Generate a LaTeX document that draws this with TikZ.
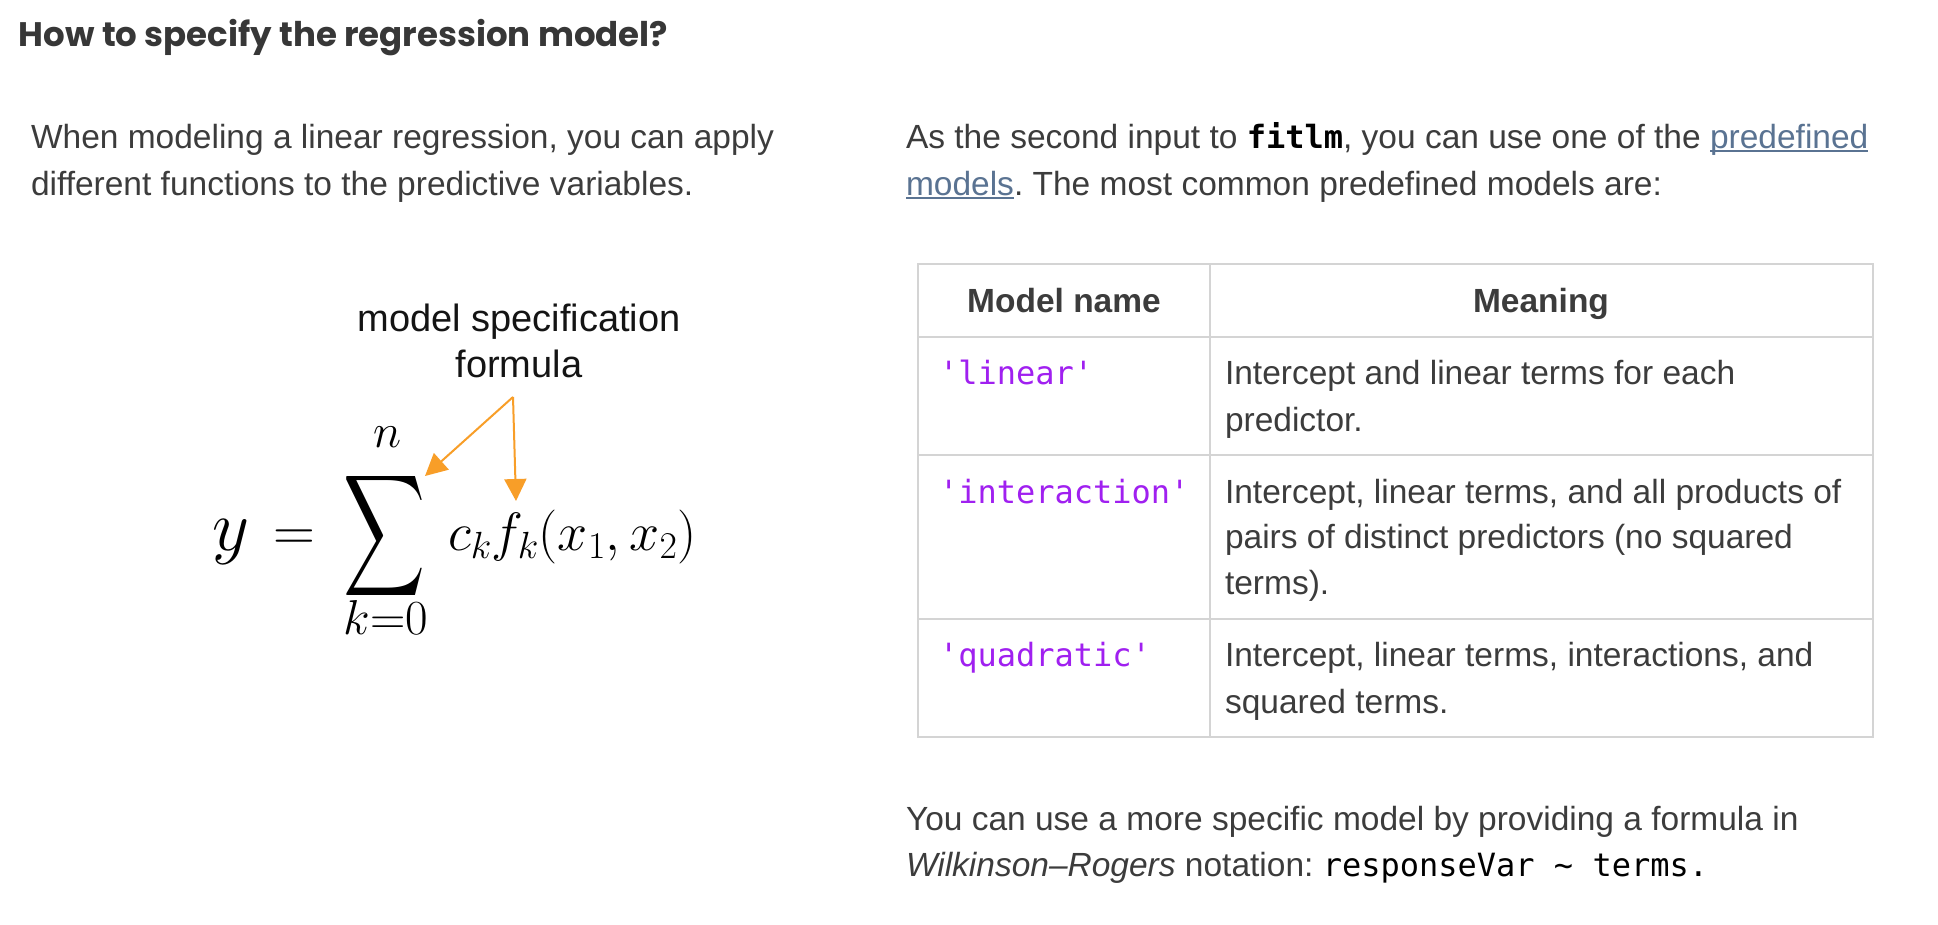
\RequirePackage{fix-cm}
\documentclass[tikz,border=0pt]{standalone}
\usepackage[no-math]{fontspec}
\usepackage{graphicx}
\usetikzlibrary{arrows.meta}
\setmainfont{Liberation Sans}
\setmonofont{DejaVu Sans Mono}
\newfontfamily\titlefont{Poppins}
\definecolor{txt}{RGB}{60,60,60}
\definecolor{ttl}{RGB}{55,55,55}
\definecolor{lnk}{RGB}{90,115,146}
\definecolor{strc}{RGB}{160,32,240}
\definecolor{org}{RGB}{248,158,40}
\definecolor{gridc}{RGB}{212,212,212}
\newcommand\lnkword[1]{{\color{lnk}\setbox0\hbox{#1}\rlap{\rule[-4pt]{\wd0}{1.8pt}}\box0}}
\frenchspacing
\begin{document}
\begin{tikzpicture}[x=1pt,y=-1pt,
  every node/.style={inner sep=0pt,outer sep=0pt},
  body/.style={anchor=base west, font=\fontsize{33.5}{47}\selectfont, text=txt},
  hdr/.style={anchor=base, font=\bfseries\fontsize{33.5}{47}\selectfont, text=txt},
  codestr/.style={anchor=base west, font=\ttfamily\fontsize{32}{47}\selectfont, text=strc},
  lbl/.style={anchor=base, font=\fontsize{38}{46}\selectfont, text=black!92},
  tline/.style={draw=gridc, line width=2pt},
  callout/.style={draw=org, line width=2pt, -{Triangle[length=22pt,width=22pt]}}]
\useasboundingbox (0,0) rectangle (1938,924);
\fill[white] (0,0) rectangle (1938,924);

% title
\node[anchor=base west, font=\titlefont\bfseries\fontsize{34}{40}\selectfont, text=ttl] (title) at (19,46) {How to specify the regression model?};

% left paragraph
\node[body] (l1) at (31,148) {When modeling a linear regression, you can apply};
\node[body] (l2) at (31,195) {different functions to the predictive variables.};

% right paragraph
\node[body] (r1) at (906,148) {As the second input to {\ttfamily\bfseries\fontsize{32}{40}\selectfont\color{black}fitlm}, you can use one of the \lnkword{predefined}};
\node[body] (r2) at (906,195) {\lnkword{models}. The most common predefined models are:};

% table
\draw[tline] (918,264) rectangle (1873,737);
\draw[tline] (1210,264) -- (1210,737);
\draw[tline] (918,337) -- (1873,337);
\draw[tline] (918,455) -- (1873,455);
\draw[tline] (918,619) -- (1873,619);

\node[hdr] (h1) at (1064,312) {Model name};
\node[hdr] (h2) at (1541,312) {Meaning};

\node[codestr] (m1) at (939,384) {'linear'};
\node[body] (d1a) at (1225,384) {Intercept and linear terms for each};
\node[body] (d1b) at (1225,431) {predictor.};

\node[codestr] (m2) at (939,503) {'interaction'};
\node[body] (d2a) at (1225,503) {Intercept, linear terms, and all products of};
\node[body] (d2b) at (1225,548) {pairs of distinct predictors (no squared};
\node[body] (d2c) at (1225,594) {terms).};

\node[codestr] (m3) at (939,666) {'quadratic'};
\node[body] (d3a) at (1225,666) {Intercept, linear terms, interactions, and};
\node[body] (d3b) at (1225,713) {squared terms.};

% bottom paragraph
\node[body] (b1) at (906,830) {You can use a more specific model by providing a formula in};
\node[body] (b2) at (906,876) {\textit{Wilkinson–Rogers} notation: {\ttfamily\fontsize{32}{40}\selectfont\color{black}responseVar \textasciitilde{} terms.}};

% formula figure
\node[lbl] (lab1) at (519,331) {model specification};
\node[lbl] (lab2) at (519,377) {formula};

\node[anchor=base west, font=\fontsize{72}{76}\selectfont] (yv) at (212,550) {$y$};
\node[anchor=base west, font=\fontsize{58}{60}\selectfont] (eq) at (273,550) {$=$};
\node[anchor=north west] (sig) at (343,468) {\resizebox*{82pt}{136pt}{$\displaystyle\sum$}};
\node[anchor=base, font=\fontsize{48}{50}\selectfont] (up) at (388,447) {$n$};
\node[anchor=base, font=\fontsize{49}{50}\selectfont] (lo) at (386,634) {$k{=}0$};
\node[anchor=base west, font=\fontsize{54}{60}\selectfont] (rhs) at (448,550) {$c_k f_k(x_1, x_2)$};

\coordinate (src) at (513,397);
\coordinate (t1) at (425,476);
\coordinate (t2) at (516,501);
\draw[callout] (src) -- (t1);
\draw[callout] (src) -- (t2);
\end{tikzpicture}
\end{document}
